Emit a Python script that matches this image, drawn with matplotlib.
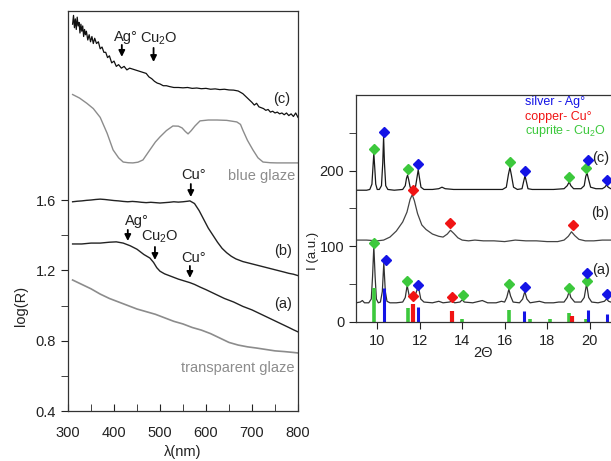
import matplotlib
matplotlib.use('Agg')
import matplotlib.pyplot as plt

plt.rcParams['font.family'] = ['Liberation Sans', 'DejaVu Sans']
plt.rcParams['mathtext.default'] = 'regular'

# ---- left panel: reflectance spectra, log(R) vs wavelength ----
c_wl = [310, 312, 314, 316, 318, 320, 322, 324, 326, 328, 330, 332, 334, 336, 338, 340,
        343, 346, 349, 352, 355, 358, 362, 366, 370, 374, 378, 382, 386, 390, 395, 400,
        405, 410, 416, 422, 428, 434, 440, 446, 452, 458, 464, 470, 476, 482, 488, 494,
        500, 507, 514, 521, 530, 540, 550, 560, 570, 580, 590, 600, 610, 620, 630, 640,
        650, 660, 670, 680, 690, 700, 705, 710, 715, 720, 725, 730, 735, 740, 745, 750,
        755, 760, 765, 770, 775, 780, 785, 790, 795, 800]
c_logR = [2.60, 2.65, 2.58, 2.63, 2.57, 2.64, 2.59, 2.61, 2.55, 2.60, 2.56, 2.59, 2.53, 2.57, 2.54, 2.56,
          2.51, 2.54, 2.50, 2.53, 2.49, 2.52, 2.49, 2.50, 2.46, 2.47, 2.44, 2.44, 2.41, 2.42, 2.38, 2.39,
          2.36, 2.37, 2.35, 2.36, 2.34, 2.35, 2.345, 2.34, 2.335, 2.33, 2.325, 2.32, 2.30, 2.29, 2.275, 2.265,
          2.26, 2.25, 2.25, 2.245, 2.24, 2.24, 2.238, 2.24, 2.235, 2.237, 2.233, 2.235, 2.23, 2.232, 2.228, 2.23,
          2.226, 2.225, 2.22, 2.205, 2.18, 2.155, 2.14, 2.15, 2.13, 2.125, 2.12, 2.11, 2.115, 2.10, 2.105, 2.095,
          2.10, 2.09, 2.095, 2.085, 2.095, 2.08, 2.09, 2.075, 2.095, 2.07]

blue_wl = [310, 325, 341, 355, 370, 385, 398, 410, 420, 431, 441, 452, 463, 478, 490, 500,
           514, 528, 540, 548, 555, 561, 568, 576, 587, 605, 624, 645, 667, 675, 680, 690,
           702, 713, 724, 740, 754, 770, 785, 800]
blue_logR = [2.20, 2.18, 2.15, 2.12, 2.07, 1.98, 1.885, 1.84, 1.816, 1.812, 1.811, 1.815, 1.828, 1.885, 1.93, 1.959,
             1.995, 2.021, 2.02, 2.01, 1.99, 1.976, 1.995, 2.021, 2.05, 2.055, 2.055, 2.053, 2.044, 2.03, 1.998, 1.94,
             1.885, 1.84, 1.816, 1.812, 1.811, 1.811, 1.811, 1.811]

b_wl = [310, 320, 330, 340, 350, 360, 370, 380, 390, 400, 410, 420, 430, 440, 450, 460,
        470, 480, 490, 500, 510, 520, 530, 540, 550, 560, 565, 575, 585, 595, 605, 615,
        625, 635, 645, 655, 665, 680, 695, 710, 725, 740, 755, 770, 780, 790, 800]
b_logR = [1.59, 1.593, 1.595, 1.598, 1.60, 1.603, 1.605, 1.603, 1.60, 1.597, 1.595, 1.592, 1.59, 1.592, 1.59, 1.587,
          1.585, 1.587, 1.585, 1.583, 1.585, 1.587, 1.59, 1.588, 1.59, 1.593, 1.595, 1.58, 1.54, 1.49, 1.44, 1.40,
          1.36, 1.325, 1.30, 1.28, 1.265, 1.25, 1.24, 1.23, 1.22, 1.21, 1.20, 1.19, 1.183, 1.178, 1.17]

a_wl = [310, 330, 350, 370, 390, 405, 420, 435, 450, 465, 478, 486, 493, 500, 510, 525,
        540, 555, 565, 575, 587, 600, 620, 640, 660, 680, 700, 720, 740, 760, 780, 790, 800]
a_logR = [1.35, 1.35, 1.355, 1.355, 1.36, 1.362, 1.355, 1.34, 1.32, 1.29, 1.27, 1.245, 1.215, 1.195, 1.18, 1.165,
          1.15, 1.138, 1.13, 1.12, 1.105, 1.09, 1.065, 1.04, 1.02, 0.995, 0.975, 0.95, 0.925, 0.90, 0.875, 0.862, 0.85]

tr_wl = [310, 330, 350, 370, 390, 410, 430, 450, 470, 490, 510, 530, 550, 570, 590, 610,
         630, 650, 670, 690, 710, 730, 750, 770, 790, 800]
tr_logR = [1.145, 1.12, 1.095, 1.065, 1.04, 1.02, 1.0, 0.98, 0.965, 0.95, 0.93, 0.91, 0.895, 0.875, 0.86, 0.84,
           0.815, 0.79, 0.775, 0.765, 0.758, 0.75, 0.742, 0.738, 0.733, 0.73]

# ---- right panel: XRD patterns, I vs 2 theta ----
xc_2t = [9.0, 9.5, 9.65, 9.75, 9.80, 9.84, 9.88, 9.93, 10.0, 10.1, 10.2, 10.26, 10.30, 10.34, 10.40, 10.5,
         10.8, 11.2, 11.32, 11.38, 11.43, 11.48, 11.55, 11.65, 11.8, 11.88, 11.93, 11.98, 12.06, 12.2, 12.6, 12.9,
         13.05, 13.2, 13.6, 14.0, 14.5, 15.0, 15.5, 15.9, 16.08, 16.18, 16.25, 16.32, 16.42, 16.6, 16.82, 16.9,
         16.96, 17.02, 17.1, 17.3, 17.8, 18.3, 18.8, 18.95, 19.04, 19.12, 19.25, 19.6, 19.75, 19.82, 19.88, 19.94,
         20.05, 20.3, 20.6, 20.72, 20.8, 20.88, 21.0, 22.0]
xc_I = [174, 174, 175, 182, 205, 223, 205, 182, 175, 175, 180, 210, 245, 210, 180, 175,
        174, 175, 180, 190, 194, 188, 178, 176, 178, 192, 201, 192, 178, 175, 175, 176,
        178, 176, 175, 175, 175, 175, 175, 175, 178, 195, 204, 194, 178, 175, 176, 186,
        193, 186, 176, 175, 175, 175, 176, 180, 185, 180, 176, 176, 180, 192, 197, 190,
        178, 176, 176, 178, 181, 178, 176, 176]

xb_2t = [9.0, 9.5, 10.0, 10.3, 10.6, 10.9, 11.2, 11.4, 11.55, 11.65, 11.75, 11.9, 12.1, 12.3, 12.6, 12.9,
         13.1, 13.3, 13.45, 13.6, 13.8, 14.0, 14.3, 14.6, 15.0, 15.5, 16.0, 16.5, 17.0, 17.5, 18.0, 18.5,
         18.8, 19.0, 19.15, 19.3, 19.5, 19.8, 20.2, 20.6, 21.0, 22.0]
xb_I = [108, 108, 107, 108, 112, 120, 132, 145, 162, 168, 160, 143, 128, 122, 116, 113,
        112, 116, 121, 117, 111, 108, 107, 108, 107, 107, 106, 108, 107, 107, 106, 106,
        108, 113, 119, 114, 109, 107, 107, 108, 108, 108]

xa_2t = [9.0, 9.2, 9.3, 9.4, 9.6, 9.72, 9.78, 9.84, 9.90, 9.96, 10.05, 10.15, 10.24, 10.31, 10.38, 10.46,
         10.6, 10.9, 11.2, 11.32, 11.41, 11.5, 11.6, 11.7, 11.8, 11.9, 11.97, 12.05, 12.2, 12.6, 12.9, 13.1,
         13.4, 13.5, 13.65, 13.9, 14.0, 14.1, 14.5, 14.95, 15.2, 15.6, 15.85, 16.0, 16.1, 16.2, 16.28, 16.4,
         16.7, 16.85, 16.95, 17.05, 17.2, 17.64, 17.9, 18.3, 18.55, 18.8, 18.95, 19.04, 19.12, 19.3, 19.6, 19.75,
         19.86, 19.96, 20.1, 20.4, 20.7, 20.8, 20.9, 21.0, 22.0]
xa_I = [25, 26, 28, 25, 25, 30, 60, 100, 60, 30, 25, 26, 40, 78, 40, 27,
        25, 25, 26, 32, 48, 35, 32, 35, 36, 44, 42, 30, 26, 25, 27, 25,
        26, 27, 25, 26, 29, 26, 25, 28, 25, 25, 27, 26, 32, 43, 34, 26,
        25, 30, 40, 30, 25, 27, 25, 25, 26, 26, 32, 40, 32, 26, 26, 32,
        50, 32, 26, 25, 27, 30, 27, 26, 26]

# phase markers (diamonds)
ag_2t = [10.30, 11.93, 16.96, 19.95, 20.80, 10.40, 11.94, 16.96, 19.88, 20.80]
ag_I = [251, 209, 200, 214, 188, 82, 49, 45.5, 64, 36]
cu_2t = [11.68, 13.45, 19.20, 11.68, 13.51]
cu_I = [174, 131, 128, 34, 33]
cup_2t = [9.84, 11.44, 16.27, 19.05, 19.84, 9.84, 11.41, 14.03, 16.20, 19.05, 19.86]
cup_I = [228, 202, 211, 192, 204, 104, 54, 35, 49.5, 44, 54]

# reference sticks
ref_ag_2t = [10.31, 11.94, 16.93, 19.91, 20.80]
ref_ag_I = [44, 20, 14, 15, 10]
ref_cu_2t = [11.68, 13.51, 19.17]
ref_cu_I = [24, 14, 8]
ref_cup_2t = [9.84, 11.44, 14.0, 16.2, 17.2, 18.15, 19.05, 19.85]
ref_cup_I = [44, 18, 3, 15, 3, 3, 12, 3]

BLUE = '#1414e6'
RED = '#f01414'
GREEN = '#3cc83c'
GRAY = '#8c8c8c'
TXT = '#222222'

fig = plt.figure(figsize=(6.11, 4.61), dpi=100)

# left panel
ax = fig.add_axes([68/611, 1-411/461, 230/611, 400/461])
ax.plot(c_wl, c_logR, color='#111111', lw=0.9)
ax.plot(blue_wl, blue_logR, color=GRAY, lw=1.0)
ax.plot(b_wl, b_logR, color='#222222', lw=1.0)
ax.plot(a_wl, a_logR, color='#222222', lw=1.0)
ax.plot(tr_wl, tr_logR, color=GRAY, lw=1.2)
ax.set_xlim(300, 800)
ax.set_ylim(0.4, 2.675)
ax.set_xticks([300, 400, 500, 600, 700, 800])
ax.set_xticks([350, 450, 550, 650, 750], minor=True)
ax.set_yticks([0.4, 0.8, 1.2, 1.6])
ax.set_yticks([0.6, 1.0, 1.4], minor=True)
ax.tick_params(axis='x', which='both', direction='in', length=5, labelsize=10.5, colors=TXT, pad=11)
ax.tick_params(axis='y', which='both', direction='out', length=5, labelsize=10.5, colors=TXT)
for s in ax.spines.values():
    s.set_color('#333333')
    s.set_linewidth(0.9)
ax.set_xlabel('λ(nm)', fontsize=10.5, color=TXT)
ax.xaxis.set_label_coords(0.5, -(445-411)/400)
ax.set_ylabel('log(R)', fontsize=10.5, color=TXT)
ax.yaxis.set_label_coords(-0.175, 0.263)

arrows = [(417, 2.482, 2.414), (486, 2.465, 2.385), (567, 1.691, 1.617),
          (430, 1.430, 1.367), (489, 1.333, 1.259), (565, 1.225, 1.157)]
for x0, y0, y1 in arrows:
    ax.annotate('', xy=(x0, y1), xytext=(x0, y0),
                arrowprops=dict(arrowstyle='-|>', color='k', lw=1.3, mutation_scale=9,
                                shrinkA=0, shrinkB=0))

kw = dict(ha='center', va='center', fontsize=10.5, color=TXT)
ax.text(426, 2.527, 'Ag°', **kw)
ax.text(497, 2.516, 'Cu$_2$O', **kw)
ax.text(574, 1.742, 'Cu°', **kw)
ax.text(450, 1.481, 'Ag°', **kw)
ax.text(500, 1.390, 'Cu$_2$O', **kw)
ax.text(572, 1.270, 'Cu°', **kw)
ax.text(765, 2.175, '(c)', **kw)
ax.text(767, 1.310, '(b)', **kw)
ax.text(767, 1.009, '(a)', **kw)
ax.text(722, 1.737, 'blue glaze', ha='center', va='center', fontsize=10.5, color=GRAY)
ax.text(670, 0.645, 'transparent glaze', ha='center', va='center', fontsize=10.5, color=GRAY)

# right panel (extends past the right edge of the figure)
bx = fig.add_axes([356/611, 1-321.7/461, 276/611, 226.7/461])
bx.plot(xc_2t, xc_I, color='#1a1a1a', lw=0.9)
bx.plot(xb_2t, xb_I, color='#444444', lw=0.9)
bx.plot(xa_2t, xa_I, color='#333333', lw=0.9)
bx.vlines(ref_cup_2t, 0, ref_cup_I, color=GREEN, lw=2.6)
bx.vlines(ref_ag_2t, 0, ref_ag_I, color=BLUE, lw=2.2)
bx.vlines(ref_cu_2t, 0, ref_cu_I, color=RED, lw=3.0)
bx.plot(cup_2t, cup_I, 'D', color=GREEN, ms=5.5, mec=GREEN, ls='none')
bx.plot(ag_2t, ag_I, 'D', color=BLUE, ms=5.5, mec=BLUE, ls='none')
bx.plot(cu_2t, cu_I, 'D', color=RED, ms=5.5, mec=RED, ls='none')
bx.set_xlim(9, 22)
bx.set_ylim(0, 300)
bx.set_xticks([10, 12, 14, 16, 18, 20])
bx.set_yticks([0, 100, 200])
bx.set_yticks([50, 150, 250], minor=True)
bx.tick_params(axis='both', which='both', direction='out', length=5, labelsize=10.5, colors=TXT)
bx.spines['right'].set_visible(False)
for s in bx.spines.values():
    s.set_color('#333333')
    s.set_linewidth(0.9)
bx.set_xlabel('2Θ', fontsize=10.5, color=TXT)
bx.xaxis.set_label_coords((483-356)/276, -(346-321.7)/226.7)
bx.set_ylabel('I (a.u.)', fontsize=9.5, color=TXT)
bx.yaxis.set_label_coords(-0.135, 0.31)

lk = dict(ha='left', va='center', fontsize=9, transform=bx.transAxes)
bx.text((525-356)/276, (321.7-102)/226.7, 'silver - Ag°', color=BLUE, **lk)
bx.text((525-356)/276, (321.7-117)/226.7, 'copper- Cu°', color=RED, **lk)
bx.text((525-356)/276, (321.7-131)/226.7, 'cuprite - Cu$_2$O', color=GREEN, **lk)
bx.text(20.12, 217, '(c)', ha='left', va='center', fontsize=10.5, color=TXT)
bx.text(20.08, 144, '(b)', ha='left', va='center', fontsize=10.5, color=TXT)
bx.text(20.12, 68, '(a)', ha='left', va='center', fontsize=10.5, color=TXT)

fig.savefig('out.png', dpi=100)
